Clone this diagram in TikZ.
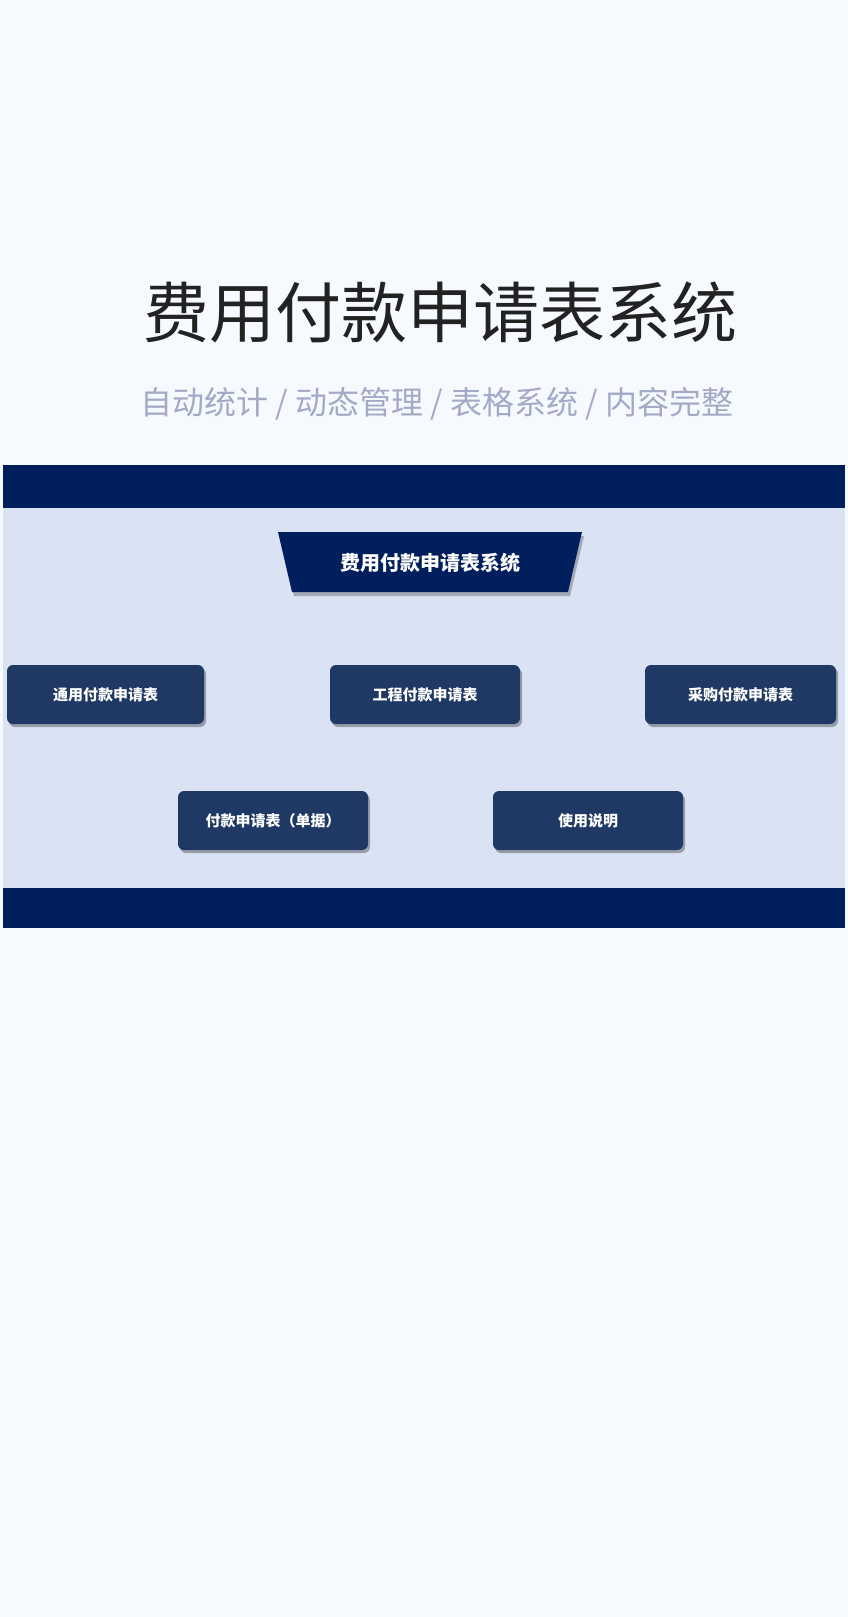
\documentclass[tikz,border=0pt]{standalone}
\usepackage{fontspec}
\setmainfont{Noto Sans CJK SC}
\usetikzlibrary{shadows}
\definecolor{bg}{HTML}{F6FAFF}
\definecolor{navy}{HTML}{001F5C}
\definecolor{panel}{HTML}{DAE3F3}
\definecolor{boxc}{HTML}{1F3864}
\definecolor{sub}{HTML}{A3AAC6}
\definecolor{ttl}{HTML}{222222}
\begin{document}
\begin{tikzpicture}[x=1pt,y=-1pt,
  btn/.style={fill=boxc,rounded corners=6pt,text=white,font=\bfseries\fontsize{15}{18}\selectfont,
    drop shadow={shadow xshift=2pt,shadow yshift=-3pt,fill=black,opacity=0.3},minimum height=59pt,inner sep=0pt}]
\fill[bg] (0,0) rectangle (848,1617);
\useasboundingbox (0,0) rectangle (848,1617);
\node[text=ttl,font=\fontsize{66}{70}\selectfont] (title) at (440,312) {费用付款申请表系统};
\node[text=sub,font=\fontsize{32}{36}\selectfont] (subt) at (437,404) {自动统计 / 动态管理 / 表格系统 / 内容完整};
\fill[navy] (3,465) rectangle (845,508);
\fill[panel] (3,508) rectangle (845,888);
\fill[navy] (3,888) rectangle (845,928);
\fill[black,opacity=0.25] (280,536) -- (584,536) -- (570,596) -- (294,596) -- cycle;
\fill[navy] (278,532) -- (582,532) -- (568,592) -- (292,592) -- cycle;
\node[text=white,font=\bfseries\fontsize{20}{24}\selectfont] (main) at (430,563) {费用付款申请表系统};
\node[btn,minimum width=197pt] (b1) at (105.5,694.5) {通用付款申请表};
\node[btn,minimum width=190pt] (b2) at (425,694.5) {工程付款申请表};
\node[btn,minimum width=191pt] (b3) at (740.5,694.5) {采购付款申请表};
\node[btn,minimum width=190pt] (b4) at (273,820.5) {付款申请表（单据）};
\node[btn,minimum width=190pt] (b5) at (588,820.5) {使用说明};
\end{tikzpicture}
\end{document}
